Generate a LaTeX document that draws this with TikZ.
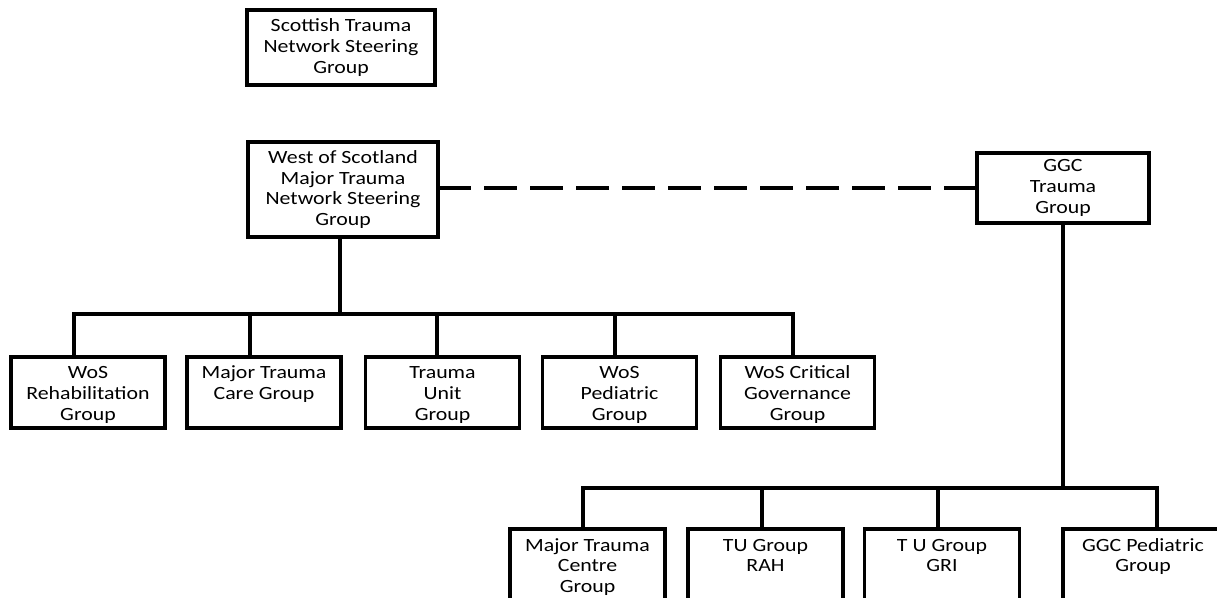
\documentclass[tikz,border=0pt]{standalone}
\usepackage{fontspec}
\setmainfont{Carlito}[FakeStretch=1.17]
\tikzset{
  box/.style={draw, line width=2.3pt, inner sep=0pt, outer sep=0pt, align=center,
    font=\fontsize{14pt}{15.6pt}\selectfont},
  link/.style={line width=2.3pt},
  dashlink/.style={line width=2.3pt, dash pattern=on 24.75pt off 9.75pt},
}
\newcommand{\toptext}[3]{\parbox[c][#2][t]{#1}{\centering\rule{0pt}{16.5pt}#3}}
\begin{document}
\begin{tikzpicture}[x=0.75pt,y=-0.75pt]
\useasboundingbox (0,0) rectangle (1217,598);
\clip (0,0) rectangle (1217,598);
% top level
\node[box, minimum width=141pt, minimum height=56.25pt] (stn) at (341,47.5) {Scottish Trauma\\Network Steering\\Group};
\node[box, minimum width=142.5pt, minimum height=71.25pt] (wos) at (343,189.5) {West of Scotland\\Major Trauma\\Network Steering\\Group};
\node[box, minimum width=129pt, minimum height=52.5pt] (ggc) at (1063,188) {GGC\\Trauma\\Group};
% middle row
\node[box] (rehab) at (88,392.5) {\toptext{115.5pt}{53.25pt}{WoS\\Rehabilitation\\Group}};
\node[box] (care) at (264,392.5) {\toptext{115.5pt}{53.25pt}{Major Trauma\\Care Group}};
\node[box] (tu) at (442.5,392.5) {\toptext{115.5pt}{53.25pt}{Trauma\\Unit\\Group}};
\node[box] (ped) at (619.5,392.5) {\toptext{115.5pt}{53.25pt}{WoS\\Pediatric\\Group}};
\node[box] (crit) at (797.5,392.5) {\toptext{115.5pt}{53.25pt}{WoS Critical\\Governance\\Group}};
% bottom row
\node[box] (mtc) at (587.5,569) {\toptext{116.25pt}{60pt}{Major Trauma\\Centre\\Group}};
\node[box] (rah) at (765.5,569) {\toptext{116.25pt}{60pt}{TU Group\\RAH}};
\node[box] (gri) at (942,569) {\toptext{116.25pt}{60pt}{T U Group\\GRI}};
\node[box] (gped) at (1143,569) {\toptext{120pt}{60pt}{GGC Pediatric\\Group}};
% left tree
\coordinate (j0) at (340,314);
\coordinate (j1) at (74,314);
\coordinate (j2) at (250,314);
\coordinate (j3) at (437,314);
\coordinate (j4) at (615,314);
\coordinate (j5) at (793,314);
\draw[link] (wos.south -| j0) -- (j0);
\draw[link] (j1 |- rehab.north) -- (j1) -- (j5) -- (j5 |- crit.north);
\draw[link] (j2) -- (j2 |- care.north);
\draw[link] (j3) -- (j3 |- tu.north);
\draw[link] (j4) -- (j4 |- ped.north);
% dashed link
\draw[dashlink] (wos.east |- ggc.west) -- (ggc.west);
% right tree
\coordinate (k0) at (1063,488);
\coordinate (k1) at (583,488);
\coordinate (k2) at (762,488);
\coordinate (k3) at (938,488);
\coordinate (k4) at (1157,488);
\draw[link] (ggc.south) -- (k0);
\draw[link] (k1 |- mtc.north) -- (k1) -- (k4) -- (k4 |- gped.north);
\draw[link] (k2) -- (k2 |- rah.north);
\draw[link] (k3) -- (k3 |- gri.north);
\end{tikzpicture}
\end{document}
